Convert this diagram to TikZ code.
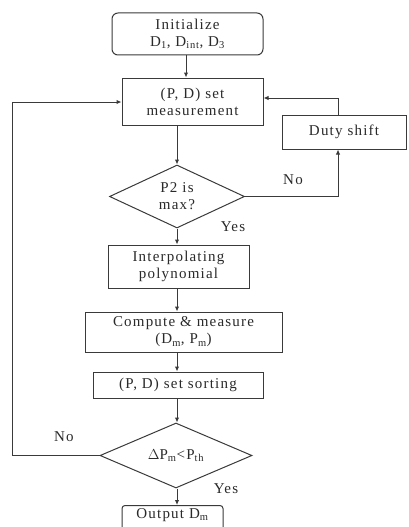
\documentclass[tikz,border=0pt]{standalone}
\usepackage{fontspec}
\setmainfont[LetterSpace=8]{Liberation Serif}
\usetikzlibrary{arrows.meta,shapes.geometric}
\definecolor{ln}{HTML}{3A3A3A}
\definecolor{tx}{HTML}{2A2A2A}
\newcommand{\fcfont}{\fontsize{15}{17}\selectfont}
\tikzset{
  every node/.style={font=\fcfont, text=tx, inner sep=0pt},
  boxnode/.style={draw=ln, line width=1pt, align=center},
  decnode/.style={draw=ln, line width=1pt, shape=diamond, align=center, inner sep=0pt},
  line/.style={draw=ln, line width=1pt},
  conn/.style={draw=ln, line width=1pt, -{Latex[length=5pt,width=4.5pt]}},
  lbl/.style={font=\fcfont, text=tx}
}
\begin{document}
\begin{tikzpicture}[x=1pt,y=-1pt]
\clip (0,0) rectangle (408,527);
\fill[white] (0,0) rectangle (408,527);
% nodes
\node[boxnode, rounded corners=6pt, minimum width=151pt, minimum height=42pt] (init) at (187.5,34) {Initialize\\D\textsubscript{1}, D\textsubscript{int}, D\textsubscript{3}};
\node[boxnode, minimum width=141pt, minimum height=47pt] (meas) at (192.5,101.5) {(P, D) set\\measurement};
\node[boxnode, minimum width=124pt, minimum height=34pt] (duty) at (344,132) {Duty shift};
\node[decnode, minimum width=135pt, minimum height=63pt, shape aspect=2.14] (d1) at (177,196.5) {P2 is\\max?};
\node[boxnode, minimum width=141pt, minimum height=43pt] (interp) at (178.5,266.5) {Interpolating\\polynomial};
\node[boxnode, minimum width=197pt, minimum height=40pt] (comp) at (183.5,332) {Compute \& measure\\(D\textsubscript{m}, P\textsubscript{m})};
\node[boxnode, minimum width=170pt, minimum height=26pt] (sort) at (178,385) {(P, D) set sorting};
\node[decnode, minimum width=152pt, minimum height=65pt, shape aspect=2.34] (d2) at (176,455.5) {$\Delta$P\textsubscript{m}<P\textsubscript{th}};
\node[boxnode, rounded corners=3pt, minimum width=101pt, minimum height=36pt, anchor=north] (out) at (172.5,505) {};
\node[anchor=north] (outt) at (172.5,508) {Output D\textsubscript{m}};
% coordinates
\coordinate (c1) at (338,196.5);
\coordinate (c2) at (338,98);
\coordinate (c3) at (12,455.5);
\coordinate (c4) at (12,102);
% connectors
\draw[conn] (init.south -| 186,0) -- (meas.north -| 186,0);
\draw[conn] (meas.south -| d1.north) -- (d1.north);
\draw[line] (d1.east) -- (c1);
\draw[conn] (c1) -- (duty.south -| c1);
\draw[line] (duty.north -| c2) -- (c2);
\draw[conn] (c2) -- (meas.east |- c2);
\draw[conn] (d1.south) -- (interp.north -| d1.south);
\draw[conn] (interp.south -| 177,0) -- (comp.north -| 177,0);
\draw[conn] (comp.south -| 177,0) -- (sort.north -| 177,0);
\draw[conn] (sort.south -| 177,0) -- (d2.north -| 177,0);
\draw[line] (d2.west) -- (c3) -- (c4);
\draw[conn] (c4) -- (meas.west |- c4);
\draw[conn] (d2.south -| 177,0) -- (out.north -| 177,0);
% labels
\node[lbl] (no1) at (293,180) {No};
\node[lbl] (yes1) at (233,227) {Yes};
\node[lbl] (no2) at (64,437) {No};
\node[lbl] (yes2) at (226,489) {Yes};
\end{tikzpicture}
\end{document}
